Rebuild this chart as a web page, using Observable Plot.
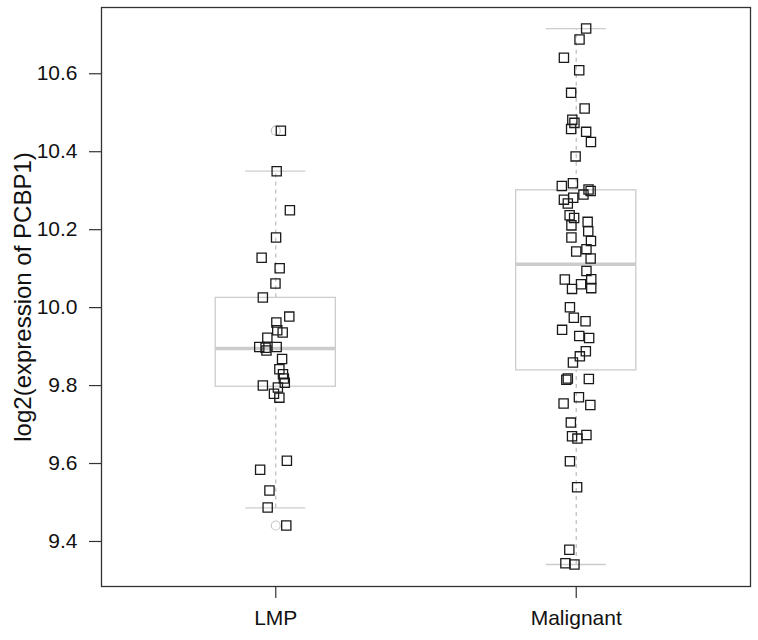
<!DOCTYPE html>
<html>
<head>
<meta charset="utf-8">
<script src="https://cdn.jsdelivr.net/npm/d3@7"></script>
<script src="https://cdn.jsdelivr.net/npm/@observablehq/plot@0.6"></script>
<style>
  html, body { margin: 0; padding: 0; background: #fff; }
  #chart svg { display: block; }
</style>
</head>
<body>
<div id="chart"></div>
<script>
// Groups and tick labels
const groups = ["LMP", "Malignant"];
const yTicks = [9.4, 9.6, 9.8, 10.0, 10.2, 10.4, 10.6];
const yLabel = "log2(expression of PCBP1)";

// Box statistics
const q1 = [9.797, 9.839];
const median = [9.895, 10.111];
const q3 = [10.025, 10.301];
const whiskerLow = [9.486, 9.341];
const whiskerHigh = [10.350, 10.716];
const outlierGroup = [1, 1];
const outlierValue = [10.454, 9.441];

// Jittered points: x (group index + jitter) and value
const lmpX = [1.017, 1.003, 1.047, 1.001, 0.953, 1.013, 0.999, 0.957, 1.045, 1.002, 1.005, 1.023, 0.972, 0.945, 0.966, 0.969, 1.003, 1.021, 1.012, 1.024, 1.027, 1.030, 0.957, 1.007, 0.994, 1.012, 1.037, 0.948, 0.979, 0.973, 1.035];
const lmpY = [10.454, 10.350, 10.250, 10.180, 10.128, 10.101, 10.062, 10.026, 9.977, 9.962, 9.942, 9.936, 9.923, 9.899, 9.897, 9.890, 9.899, 9.868, 9.842, 9.829, 9.818, 9.807, 9.800, 9.795, 9.779, 9.769, 9.607, 9.584, 9.531, 9.487, 9.441];
const malX = [2.033, 2.011, 1.959, 2.010, 1.983, 2.028, 1.987, 1.994, 1.983, 2.033, 2.049, 1.998, 1.952, 1.989, 2.041, 2.048, 2.024, 1.990, 1.959, 1.972, 1.978, 1.993, 2.038, 1.984, 2.040, 2.049, 1.984, 2.034, 2.000, 2.048, 2.034, 2.050, 1.962, 2.016, 1.986, 2.050, 1.979, 1.992, 2.031, 1.953, 2.010, 2.043, 2.032, 2.012, 1.989, 1.972, 1.967, 2.042, 2.009, 1.958, 2.047, 1.982, 1.986, 2.034, 2.004, 1.979, 2.003, 1.977, 1.964, 1.994];
const malY = [10.716, 10.688, 10.641, 10.609, 10.551, 10.511, 10.482, 10.474, 10.458, 10.451, 10.425, 10.388, 10.312, 10.319, 10.303, 10.299, 10.290, 10.282, 10.277, 10.267, 10.237, 10.230, 10.220, 10.211, 10.196, 10.171, 10.180, 10.150, 10.144, 10.126, 10.094, 10.073, 10.072, 10.060, 10.048, 10.050, 10.001, 9.974, 9.965, 9.943, 9.927, 9.922, 9.888, 9.875, 9.859, 9.818, 9.815, 9.817, 9.770, 9.754, 9.750, 9.705, 9.670, 9.673, 9.664, 9.606, 9.539, 9.379, 9.344, 9.341];

// Build tables
const boxes = groups.map((g, i) => ({
  pos: i + 1, q1: q1[i], median: median[i], q3: q3[i],
  lo: whiskerLow[i], hi: whiskerHigh[i]
}));
const outliers = outlierGroup.map((g, i) => ({x: g, y: outlierValue[i]}));
const points = [
  ...lmpX.map((x, i) => ({x, y: lmpY[i]})),
  ...malX.map((x, i) => ({x, y: malY[i]}))
];

const boxHalf = 0.2;
const capHalf = 0.1;
const boxColor = "#cccccc";
const font = "Liberation Sans, Arial, Helvetica, sans-serif";

const chart = Plot.plot({
  width: 758,
  height: 640,
  marginLeft: 101,
  marginRight: 8,
  marginTop: 7,
  marginBottom: 54,
  style: {fontFamily: font, background: "#fff"},
  x: {domain: [0.42, 2.58], axis: null},
  y: {domain: [9.2845, 10.77], axis: null},
  marks: [
    // whiskers
    Plot.ruleX(boxes, {x: "pos", y1: "q3", y2: "hi", stroke: "#bbbbbb", strokeWidth: 1.2, strokeDasharray: "4,4"}),
    Plot.ruleX(boxes, {x: "pos", y1: "lo", y2: "q1", stroke: "#bbbbbb", strokeWidth: 1.2, strokeDasharray: "4,4"}),
    // caps
    Plot.ruleY(boxes, {y: "hi", x1: d => d.pos - capHalf, x2: d => d.pos + capHalf, stroke: boxColor, strokeWidth: 1.3}),
    Plot.ruleY(boxes, {y: "lo", x1: d => d.pos - capHalf, x2: d => d.pos + capHalf, stroke: boxColor, strokeWidth: 1.3}),
    // box
    Plot.rect(boxes, {x1: d => d.pos - boxHalf, x2: d => d.pos + boxHalf, y1: "q1", y2: "q3", fill: "white", stroke: boxColor, strokeWidth: 1.3}),
    // median
    Plot.ruleY(boxes, {y: "median", x1: d => d.pos - boxHalf, x2: d => d.pos + boxHalf, stroke: boxColor, strokeWidth: 3.5}),
    // outliers
    Plot.dot(outliers, {x: "x", y: "y", r: 4.5, stroke: "#c8c8c8", strokeWidth: 1.2, fill: "none"}),
    // points
    Plot.dot(points, {x: "x", y: "y", symbol: "square", r: 5.2, stroke: "#1a1a1a", strokeWidth: 1.3, fill: "none"}),
    // frame
    Plot.frame({stroke: "#333", strokeWidth: 1.3}),
    // axes
    Plot.axisY({ticks: yTicks, tickFormat: d3.format(".1f"), tickSize: 12, tickPadding: 12, fontSize: 21, stroke: "#333", strokeWidth: 1.2, fill: "#111", label: null}),
    Plot.axisX({ticks: [1, 2], tickFormat: d => groups[d - 1], tickSize: 12, tickPadding: 12, fontSize: 21, stroke: "#333", strokeWidth: 1.2, fill: "#111", label: null}),
    Plot.text([yLabel], {frameAnchor: "left", dx: -78, rotate: -90, textAnchor: "middle", text: d => d, fontSize: 24, fill: "#111"})
  ]
});

document.getElementById("chart").appendChild(chart);
</script>
</body>
</html>
